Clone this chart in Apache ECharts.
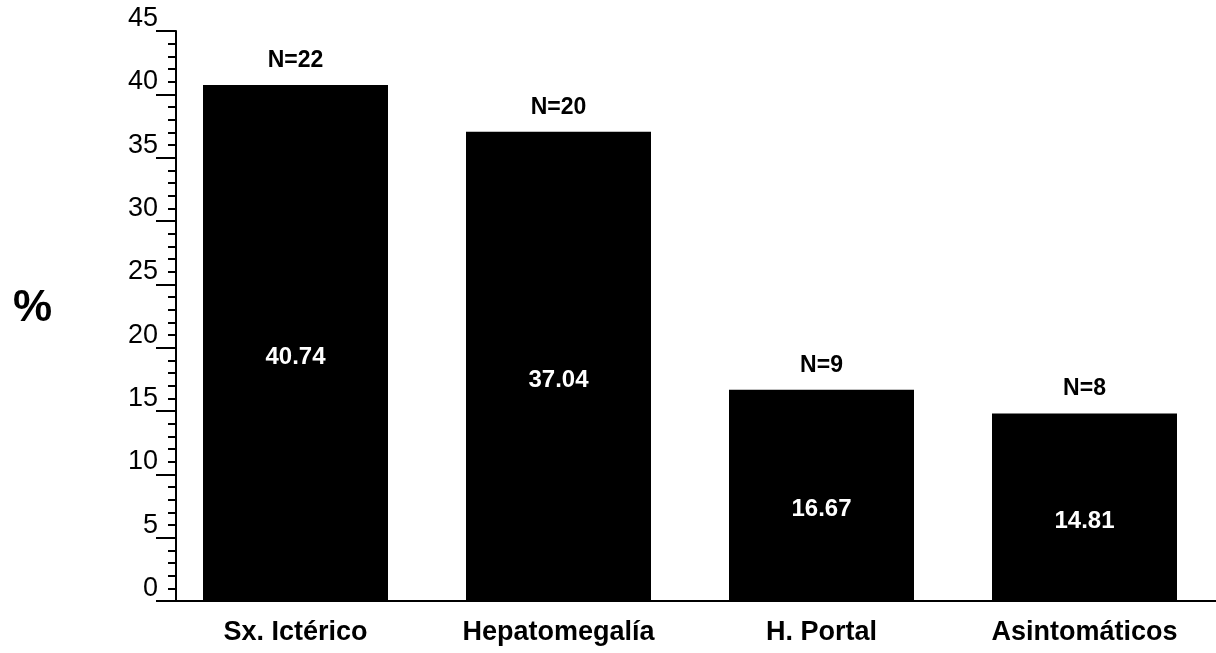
<!DOCTYPE html>
<html>
<head>
<meta charset="utf-8">
<script src="https://cdn.jsdelivr.net/npm/echarts@6/dist/echarts.min.js"></script>
<style>
  html, body { margin: 0; padding: 0; background: #fff; }
  #chart { width: 1216px; height: 653px; }
</style>
</head>
<body>
<div id="chart"></div>
<script>
// Categories and percentages per clinical presentation
const categories = ['Sx. Ictérico', 'Hepatomegalía', 'H. Portal', 'Asintomáticos'];
const percentages = [40.74, 37.04, 16.67, 14.81];
const patientCounts = [22, 20, 9, 8];
const yTicks = [0, 5, 10, 15, 20, 25, 30, 35, 40, 45];

const FONT = '"Liberation Sans", Arial, Helvetica, sans-serif';

const chart = echarts.init(document.getElementById('chart'), null, { renderer: 'canvas' });

chart.setOption({
  animation: false,
  backgroundColor: '#ffffff',
  grid: { left: 164, top: 31, width: 1072, height: 570, containLabel: false },
  graphic: [{
    type: 'text',
    left: 13,
    top: 287,
    style: { text: '%', font: 'bold 44px ' + FONT, fill: '#000' }
  }],
  xAxis: {
    type: 'category',
    data: categories,
    axisLine: { show: true, lineStyle: { color: '#000', width: 2 } },
    axisTick: { show: false },
    axisLabel: {
      color: '#000', fontFamily: FONT, fontWeight: 'bold', fontSize: 27, margin: 18
    },
    splitLine: { show: false }
  },
  yAxis: {
    type: 'value',
    min: yTicks[0],
    max: yTicks[yTicks.length - 1],
    interval: 5,
    offset: -12,
    axisLine: { show: true, lineStyle: { color: '#000', width: 2 } },
    axisTick: { show: true, length: 20, lineStyle: { color: '#000', width: 2 } },
    minorTick: { show: true, splitNumber: 5, length: 8, lineStyle: { color: '#000', width: 2 } },
    axisLabel: {
      color: '#000', fontFamily: FONT, fontSize: 27, margin: 18,
      verticalAlign: 'bottom', lineHeight: 25,
      formatter: v => yTicks.includes(v) ? String(v) : ''
    },
    splitLine: { show: false },
    minorSplitLine: { show: false }
  },
  series: [
    {
      type: 'bar',
      data: percentages,
      barWidth: 185,
      itemStyle: { color: '#000' },
      label: {
        show: true,
        position: 'inside',
        offset: [0, 14],
        color: '#fff',
        fontFamily: FONT,
        fontWeight: 'bold',
        fontSize: 24,
        formatter: p => p.value.toFixed(2)
      }
    },
    {
      // counts shown above each bar
      type: 'bar',
      data: percentages,
      barWidth: 185,
      barGap: '-100%',
      itemStyle: { color: 'transparent' },
      silent: true,
      label: {
        show: true,
        position: 'top',
        distance: 13,
        color: '#000',
        fontFamily: FONT,
        fontWeight: 'bold',
        fontSize: 23,
        formatter: p => 'N=' + patientCounts[p.dataIndex]
      }
    }
  ]
});
</script>
</body>
</html>
